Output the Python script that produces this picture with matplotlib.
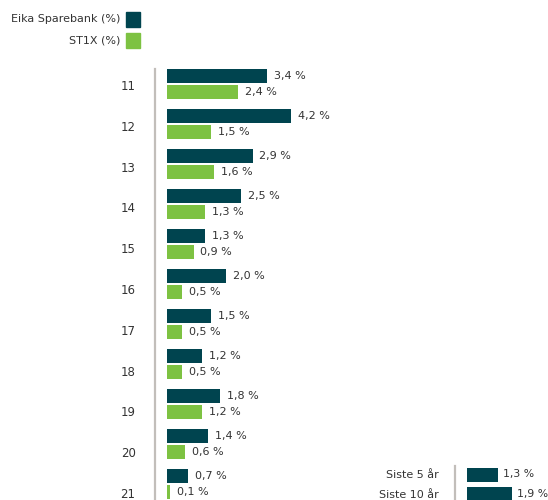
import matplotlib.pyplot as plt
from matplotlib.patches import Rectangle

# Data
years = ['11', '12', '13', '14', '15', '16', '17', '18', '19', '20', '21']
eika = [3.4, 4.2, 2.9, 2.5, 1.3, 2.0, 1.5, 1.2, 1.8, 1.4, 0.7]
st1x = [2.4, 1.5, 1.6, 1.3, 0.9, 0.5, 0.5, 0.5, 1.2, 0.6, 0.1]
periods = ['Siste 5 år', 'Siste 10 år']
period_vals = [1.3, 1.9]

DARK = '#00444f'
GREEN = '#7dc242'
GRAY = '#c2beba'
TXT = '#333333'
W, H = 548, 500

plt.rcParams['font.family'] = ['DejaVu Sans']
fig = plt.figure(figsize=(W / 100, H / 100), dpi=100)


def fmt(v):
    return f'{v:.1f} %'.replace('.', ',')


def px_axes(x0, y0, x1, y1):
    # pixel box (top-left origin) -> figure axes
    return fig.add_axes([x0 / W, 1 - y1 / H, (x1 - x0) / W, (y1 - y0) / H])


def style(ax):
    for s in ['top', 'right', 'bottom']:
        ax.spines[s].set_visible(False)
    ax.spines['left'].set_color(GRAY)
    ax.spines['left'].set_linewidth(1.6)
    ax.set_xticks([])
    ax.tick_params(axis='y', length=0, labelsize=8, labelcolor=TXT)


# main chart
ax = px_axes(155, 69, 548, 500)
step = 40.0
pos = list(range(len(years)))
bh = 14 / step
off = 8 / step
ax.barh([p - off for p in pos], eika, height=bh, color=DARK)
ax.barh([p + off for p in pos], st1x, height=bh, color=GREEN)
for p, a, b in zip(pos, eika, st1x):
    ax.annotate(fmt(a), (a, p - off), xytext=(5, 0), textcoords='offset points',
                va='center', fontsize=8, color=TXT)
    ax.annotate(fmt(b), (b, p + off), xytext=(5, 0), textcoords='offset points',
                va='center', fontsize=8, color=TXT)
scale = 29.5
ax.set_xlim(-12 / scale, (548 - 167) / scale)
ax.set_ylim((500 - 84) / step, (69 - 84) / step)
# category labels are spaced a little wider than the bar groups
ax.set_yticks([(85 + 40.8 * p - 84) / step for p in pos])
ax.set_yticklabels(years)
style(ax)
ax.tick_params(axis='y', pad=14, labelsize=8.5)

# summary chart
ax2 = px_axes(455, 466, 548, 500)
step2 = 19
pos2 = [0, 1]
ax2.barh(pos2, period_vals, height=14 / step2, color=DARK)
for p, v in zip(pos2, period_vals):
    ax2.annotate(fmt(v), (v, p), xytext=(3.5, 0), textcoords='offset points',
                 va='center', fontsize=7.8, color=TXT)
scale2 = 23.8
ax2.set_xlim(-12 / scale2, (548 - 467) / scale2)
ax2.set_ylim((500 - 474.5) / step2, (466 - 474.5) / step2)
ax2.set_yticks(pos2)
ax2.set_yticklabels(periods)
style(ax2)
ax2.tick_params(axis='y', pad=12)

# legend
for i, (lab, col) in enumerate([('Eika Sparebank (%)', DARK), ('ST1X (%)', GREEN)]):
    yc = 19.5 + i * 21
    fig.text(120 / W, 1 - yc / H, lab, ha='right', va='center', fontsize=8, color=TXT)
    fig.patches.append(Rectangle((126 / W, 1 - (yc + 7) / H), 14 / W, 14 / H,
                                 transform=fig.transFigure, color=col, figure=fig))

fig.savefig('out.png', dpi=100)
